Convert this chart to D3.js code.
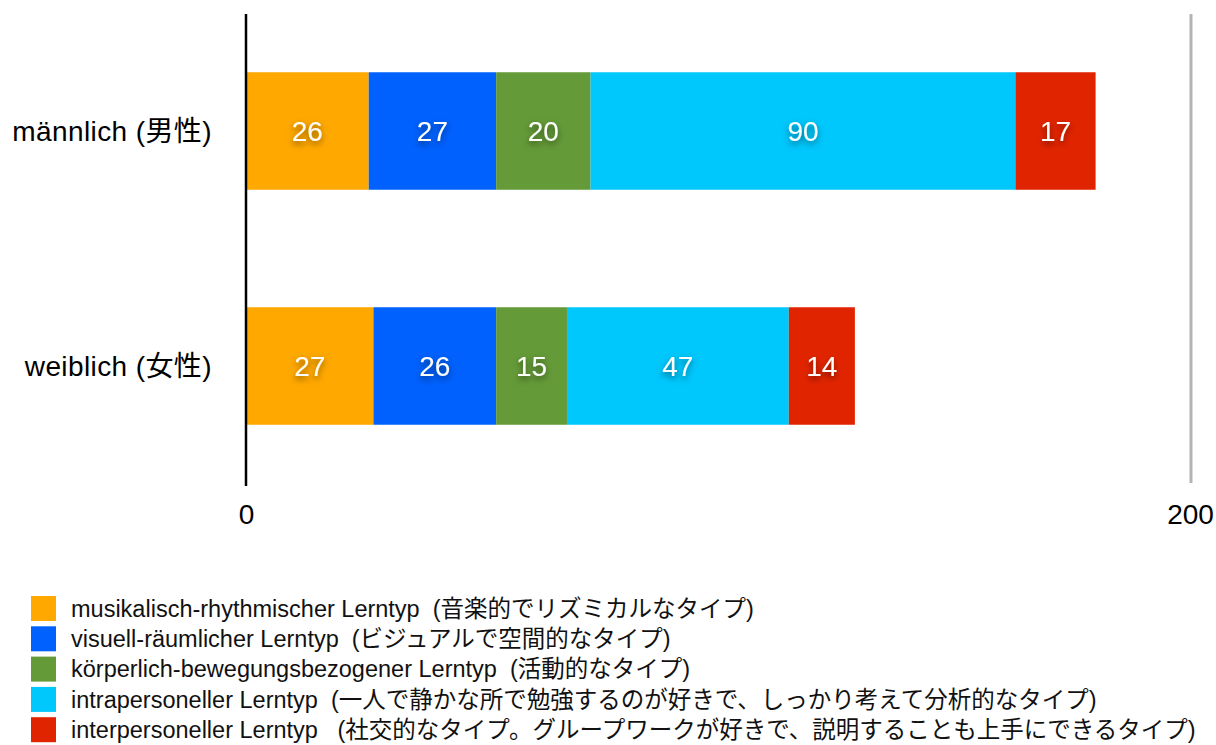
<!DOCTYPE html>
<html>
<head>
<meta charset="utf-8">
<script src="https://cdn.jsdelivr.net/npm/d3@7"></script>
<style>
  body { margin: 0; background: #fff; }
  svg text { font-family: "Liberation Sans", Helvetica, Arial, "Noto Sans CJK JP", sans-serif; }
  .legend text { white-space: pre; }
</style>
</head>
<body>
<div id="chart"></div>
<script>
// categories (rows) and learning types (stacked segments)
var groups = ["männlich (男性)", "weiblich (女性)"];
var types = ["musikalisch", "visuell", "koerperlich", "intra", "inter"];
var legendLabels = [
    "musikalisch-rhythmischer Lerntyp  (音楽的でリズミカルなタイプ)",
    "visuell-räumlicher Lerntyp  (ビジュアルで空間的なタイプ)",
    "körperlich-bewegungsbezogener Lerntyp  (活動的なタイプ)",
    "intrapersoneller Lerntyp  (一人で静かな所で勉強するのが好きで、しっかり考えて分析的なタイプ)",
    "interpersoneller Lerntyp   (社交的なタイプ。グループワークが好きで、説明することも上手にできるタイプ)"
];
var colors = ["#FFA800", "#0061FE", "#649A38", "#00C7FC", "#E12400"];
var maleValues = [26, 27, 20, 90, 17];
var femaleValues = [27, 26, 15, 47, 14];
var tickValues = [0, 200];

var width = 1216, height = 745;

var rows = [
    { group: groups[0], values: maleValues },
    { group: groups[1], values: femaleValues }
];
// build stacked segments
rows.forEach(function (r) {
    var acc = 0;
    r.segs = r.values.map(function (v, i) {
        var s = { group: r.group, type: types[i], value: v, x0: acc, x1: acc + v, color: colors[i] };
        acc += v;
        return s;
    });
});

var svg = d3.select("#chart").append("svg")
    .attr("width", width)
    .attr("height", height);

var defs = svg.append("defs");
var shadow = defs.append("filter").attr("id", "shadow")
    .attr("x", "-50%").attr("y", "-50%").attr("width", "200%").attr("height", "200%");
shadow.append("feDropShadow")
    .attr("dx", 0).attr("dy", 3)
    .attr("stdDeviation", 3)
    .attr("flood-color", "#000")
    .attr("flood-opacity", 0.5);

var xScale = d3.scaleLinear().domain([0, 200]).range([246, 1190]);
var yScale = d3.scaleBand().domain(groups).range([13.5, 483.5])
    .paddingInner(0.5).paddingOuter(0.25);

// right gridline at 200
svg.append("line")
    .attr("x1", xScale(200) + 1).attr("x2", xScale(200) + 1)
    .attr("y1", 14).attr("y2", 483)
    .style("stroke", "#b4b4b4")
    .style("stroke-width", 3);

var rowGroup = svg.selectAll("g.row").data(rows).enter()
    .append("g").attr("class", "row");

rowGroup.selectAll("rect").data(function (d) { return d.segs; }).enter()
    .append("rect")
    .attr("x", function (d) { return xScale(d.x0); })
    .attr("y", function (d) { return yScale(d.group); })
    .attr("width", function (d) { return xScale(d.x1) - xScale(d.x0); })
    .attr("height", yScale.bandwidth())
    .style("fill", function (d) { return d.color; });

rowGroup.selectAll("text.value").data(function (d) { return d.segs; }).enter()
    .append("text")
    .attr("class", "value")
    .attr("x", function (d) { return (xScale(d.x0) + xScale(d.x1)) / 2; })
    .attr("y", function (d) { return yScale(d.group) + yScale.bandwidth() / 2; })
    .attr("dy", "0.35em")
    .attr("text-anchor", "middle")
    .attr("filter", "url(#shadow)")
    .style("fill", "#fff")
    .style("font-size", "28px")
    .text(function (d) { return d.value; });

// category labels
svg.selectAll("text.cat").data(groups).enter()
    .append("text")
    .attr("class", "cat")
    .attr("x", 212)
    .attr("y", function (d) { return yScale(d) + yScale.bandwidth() / 2; })
    .attr("dy", "0.36em")
    .attr("text-anchor", "end")
    .style("fill", "#000")
    .style("font-size", "28px")
    .style("letter-spacing", "0.4px")
    .text(function (d) { return d; });

// baseline axis
svg.append("line")
    .attr("x1", xScale(0)).attr("x2", xScale(0))
    .attr("y1", 14).attr("y2", 486)
    .style("stroke", "#000")
    .style("stroke-width", 2.5);

var xAxis = d3.axisBottom(xScale).tickValues(tickValues).tickSize(0).tickPadding(0);
var axisG = svg.append("g").attr("transform", "translate(0,504)").call(xAxis);
axisG.select(".domain").remove();
axisG.selectAll("text")
    .attr("dy", "0.71em")
    .style("font-size", "28px")
    .style("fill", "#000")
    .style("font-family", "'Liberation Sans', Helvetica, Arial, sans-serif");

// legend
var legend = svg.append("g").attr("class", "legend");
var legendRow = legend.selectAll("g").data(legendLabels).enter()
    .append("g")
    .attr("transform", function (d, i) { return "translate(31," + (596 + i * 30.3) + ")"; });
legendRow.append("rect")
    .attr("width", 25).attr("height", 25)
    .style("fill", function (d, i) { return colors[i]; });
legendRow.append("text")
    .attr("x", 40)
    .attr("y", 12.5)
    .attr("dy", "0.35em")
    .style("font-size", "23.5px")
    .style("fill", "#111")
    .text(function (d) { return d; });
</script>
</body>
</html>
